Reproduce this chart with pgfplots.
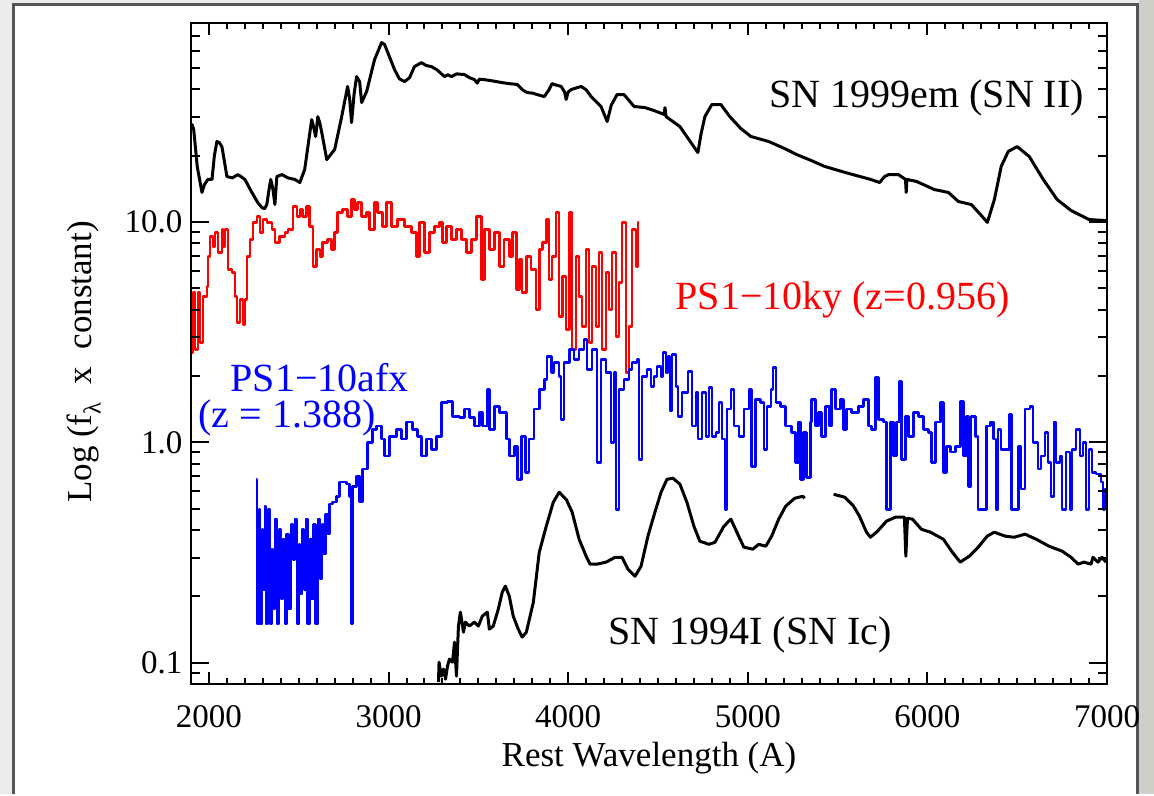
\documentclass[border=0pt]{standalone}
\usepackage{pgfplots}
\pgfplotsset{compat=1.18}
\usepackage{fontspec}
\setmainfont{Liberation Serif}
\definecolor{bgout}{HTML}{EBEBEB}
\definecolor{bgright}{HTML}{CFCFC8}
\definecolor{framec}{HTML}{555555}

\pgfplotstableread{
x y
1900 1.430
1906 1.442
1915 1.420
1935 1.250
1961 1.134
1975 1.170
1994 1.193
2017 1.193
2030 1.300
2044 1.365
2058 1.360
2072 1.342
2085 1.280
2100 1.206
2130 1.200
2161 1.215
2180 1.205
2200 1.193
2239 1.134
2270 1.090
2294 1.066
2310 1.060
2322 1.079
2335 1.150
2344 1.193
2356 1.150
2367 1.079
2378 1.206
2406 1.215
2440 1.200
2478 1.193
2506 1.179
2533 1.238
2572 1.465
2583 1.430
2594 1.388
2606 1.478
2617 1.450
2628 1.406
2656 1.283
2700 1.329
2739 1.478
2772 1.615
2783 1.560
2794 1.451
2808 1.580
2822 1.660
2839 1.637
2850 1.542
2878 1.592
2922 1.737
2961 1.814
2978 1.805
3033 1.692
3060 1.650
3089 1.637
3117 1.655
3144 1.705
3183 1.723
3210 1.710
3239 1.705
3270 1.690
3311 1.660
3330 1.668
3350 1.660
3380 1.672
3422 1.669
3450 1.655
3478 1.646
3494 1.630
3505 1.648
3533 1.646
3580 1.640
3628 1.633
3670 1.628
3717 1.624
3745 1.600
3772 1.587
3800 1.585
3828 1.578
3867 1.569
3894 1.601
3910 1.628
3922 1.624
3961 1.615
3980 1.590
3989 1.556
4000 1.590
4017 1.601
4072 1.615
4100 1.600
4128 1.569
4183 1.524
4217 1.456
4240 1.530
4272 1.578
4311 1.578
4367 1.524
4428 1.519
4480 1.505
4534 1.488
4539 1.519
4545 1.478
4622 1.433
4672 1.374
4722 1.315
4740 1.400
4761 1.478
4800 1.533
4850 1.533
4900 1.478
4960 1.425
5017 1.388
5117 1.365
5200 1.335
5272 1.306
5350 1.280
5428 1.252
5545 1.224
5684 1.193
5734 1.179
5760 1.205
5784 1.215
5839 1.215
5878 1.193
5882 1.134
5886 1.193
5939 1.184
6039 1.147
6117 1.134
6172 1.093
6245 1.079
6295 1.034
6334 0.998
6373 1.102
6411 1.252
6450 1.320
6500 1.342
6567 1.297
6645 1.193
6722 1.102
6800 1.052
6900 1.011
6978 1.007
7000 1.005
}\snIIem

\pgfplotstableread{
x y
1900 0.408
1911 0.680
1922 0.422
1939 0.680
1950 0.454
1967 0.662
1989 0.707
1994 0.844
2006 0.934
2022 0.889
2033 0.952
2050 0.862
2072 0.966
2078 0.889
2089 0.966
2106 0.785
2128 0.771
2144 0.662
2156 0.544
2172 0.649
2189 0.535
2200 0.649
2211 0.844
2228 0.921
2244 0.998
2267 1.025
2283 0.952
2300 1.011
2322 0.998
2350 0.966
2367 0.907
2394 0.934
2422 0.952
2439 0.966
2467 1.070
2489 1.025
2506 1.057
2522 1.025
2544 1.070
2561 0.980
2578 0.798
2600 0.875
2617 0.844
2633 0.907
2661 0.921
2683 0.875
2700 0.952
2717 1.043
2744 1.057
2772 1.025
2794 1.102
2811 1.057
2828 1.088
2850 1.025
2878 1.043
2894 0.966
2922 1.088
2939 1.043
2967 0.980
2989 1.088
3017 0.980
3050 1.011
3089 0.980
3128 0.952
3156 0.844
3172 0.998
3200 0.862
3228 0.952
3256 0.980
3283 0.998
3300 0.907
3322 0.980
3350 0.921
3378 0.966
3406 0.921
3433 0.862
3461 0.921
3489 1.025
3517 0.739
3533 0.966
3561 0.875
3589 0.952
3617 0.798
3644 0.921
3672 0.844
3689 0.952
3711 0.694
3728 0.830
3744 0.680
3767 0.844
3794 0.785
3822 0.603
3839 0.875
3856 0.907
3878 1.011
3894 0.739
3911 0.844
3933 1.043
3950 0.571
3967 0.753
3989 0.512
4006 1.043
4022 0.422
4044 0.844
4061 0.662
4078 0.526
4100 0.875
4117 0.454
4133 0.798
4156 0.526
4172 0.862
4189 0.422
4211 0.771
4228 0.603
4244 0.862
4267 0.481
4283 0.726
4300 0.998
4322 0.317
4339 0.526
4356 0.966
4378 0.798
4389 0.998
4395 0.998
}\kyred

\pgfplotstableread{
x y
2261 -0.168
2267 -0.825
2278 -0.304
2283 -0.825
2294 -0.395
2300 -0.667
2311 -0.290
2317 -0.825
2328 -0.304
2339 -0.825
2350 -0.485
2356 -0.757
2367 -0.349
2378 -0.825
2389 -0.395
2400 -0.712
2411 -0.440
2422 -0.825
2433 -0.417
2444 -0.757
2456 -0.372
2467 -0.531
2478 -0.349
2489 -0.825
2500 -0.463
2506 -0.689
2517 -0.395
2528 -0.667
2539 -0.349
2550 -0.825
2561 -0.440
2572 -0.712
2583 -0.372
2594 -0.825
2606 -0.349
2617 -0.621
2628 -0.372
2639 -0.508
2650 -0.327
2661 -0.417
2672 -0.281
2689 -0.272
2711 -0.245
2728 -0.181
2767 -0.190
2783 -0.245
2794 -0.825
2800 -0.200
2822 -0.154
2839 -0.272
2856 -0.122
2883 0.000
2911 0.059
2933 0.073
2961 0.014
2978 -0.063
3006 0.027
3044 0.059
3072 0.014
3100 0.091
3133 0.059
3161 0.027
3183 -0.063
3211 0.014
3239 -0.032
3267 0.027
3294 0.181
3328 0.186
3356 0.118
3394 0.113
3422 0.150
3450 0.113
3478 0.073
3506 0.136
3522 0.073
3550 0.240
3561 0.059
3589 0.163
3617 0.136
3656 0.014
3672 -0.063
3700 -0.018
3717 -0.168
3739 0.027
3761 -0.136
3783 0.014
3811 0.150
3839 0.240
3867 0.286
3883 0.390
3906 0.317
3922 0.363
3950 0.299
3961 0.104
3978 0.363
4006 0.422
4033 0.376
4061 0.422
4089 0.467
4106 0.331
4133 0.422
4161 -0.091
4183 0.376
4211 0.317
4239 0.000
4256 0.317
4267 -0.304
4283 0.240
4311 0.286
4339 0.331
4356 0.363
4383 0.376
4394 -0.077
4411 0.299
4439 0.331
4461 0.254
4478 0.299
4494 0.345
4517 0.299
4528 0.408
4544 0.317
4556 0.390
4567 0.141
4578 0.399
4600 0.254
4611 0.118
4633 0.227
4667 0.322
4689 0.073
4711 0.227
4722 0.014
4744 0.227
4767 0.027
4783 0.249
4800 0.027
4822 0.045
4839 0.181
4856 0.014
4872 -0.304
4883 0.150
4906 0.240
4922 0.073
4950 0.027
4978 0.150
5006 0.240
5022 -0.109
5044 0.195
5072 0.181
5089 -0.032
5106 0.163
5128 0.240
5139 0.340
5156 0.181
5183 0.163
5211 0.073
5244 0.045
5267 -0.091
5283 0.091
5294 -0.168
5311 0.045
5328 -0.159
5350 0.091
5356 0.195
5378 0.073
5394 0.136
5411 0.027
5433 0.163
5456 0.073
5467 0.240
5489 0.150
5517 0.195
5533 0.059
5550 0.150
5578 0.136
5617 0.163
5644 0.195
5672 0.073
5689 0.059
5711 0.295
5728 0.104
5756 0.091
5772 -0.304
5794 0.091
5811 -0.063
5828 0.091
5844 0.277
5856 -0.077
5878 0.118
5894 0.027
5922 0.136
5950 0.118
5978 0.059
6006 0.045
6022 -0.091
6044 0.091
6072 0.181
6089 -0.136
6106 -0.018
6128 -0.045
6156 -0.018
6183 0.186
6200 -0.063
6217 0.118
6228 -0.200
6244 0.118
6267 0.027
6283 -0.304
6322 -0.304
6328 0.073
6350 0.091
6367 0.014
6383 -0.304
6394 0.059
6411 -0.032
6433 -0.032
6456 0.127
6467 -0.304
6494 -0.304
6506 -0.018
6522 -0.213
6544 0.150
6572 0.163
6589 0.000
6617 -0.122
6633 -0.063
6656 0.045
6672 -0.091
6689 -0.245
6706 0.091
6717 -0.091
6739 -0.063
6750 -0.304
6772 -0.045
6794 -0.304
6806 -0.032
6828 0.059
6850 -0.063
6867 0.000
6883 -0.304
6900 -0.032
6917 -0.136
6939 -0.145
6967 -0.181
6978 -0.304
6989 -0.213
7000 -0.213
}\afxblue

\pgfplotstableread{
x y
3278 -1.088
3281 -0.998
3294 -1.061
3306 -1.029
3317 -1.075
3328 -1.016
3339 -0.984
3356 -0.998
3367 -0.907
3378 -1.061
3389 -0.834
3400 -0.771
3417 -0.862
3428 -0.816
3450 -0.834
3478 -0.816
3500 -0.834
3522 -0.789
3550 -0.771
3561 -0.848
3583 -0.834
3611 -0.757
3633 -0.680
3650 -0.653
3672 -0.698
3694 -0.789
3722 -0.848
3744 -0.884
3767 -0.862
3806 -0.726
3839 -0.499
3878 -0.381
3917 -0.272
3950 -0.227
3989 -0.259
4022 -0.317
4061 -0.440
4100 -0.517
4122 -0.553
4161 -0.553
4211 -0.544
4261 -0.522
4300 -0.522
4333 -0.576
4372 -0.608
4406 -0.562
4444 -0.426
4483 -0.317
4517 -0.227
4550 -0.168
4583 -0.163
4622 -0.190
4661 -0.272
4700 -0.381
4733 -0.449
4783 -0.463
4817 -0.454
4867 -0.381
4906 -0.349
4939 -0.408
4978 -0.476
5028 -0.485
5061 -0.463
5100 -0.472
5133 -0.426
5172 -0.349
5211 -0.290
5261 -0.254
5306 -0.245
5317 -0.254
}\Icone

\pgfplotstableread{
x y
5478 -0.236
5539 -0.249
5589 -0.290
5622 -0.336
5661 -0.408
5683 -0.431
5722 -0.404
5772 -0.358
5822 -0.340
5872 -0.340
5880 -0.517
5889 -0.345
5917 -0.349
5967 -0.395
6017 -0.408
6089 -0.440
6139 -0.499
6183 -0.544
6233 -0.517
6283 -0.476
6333 -0.426
6372 -0.408
6433 -0.426
6483 -0.431
6544 -0.417
6606 -0.440
6678 -0.472
6750 -0.494
6800 -0.522
6839 -0.553
6872 -0.544
6911 -0.553
6922 -0.522
6950 -0.544
6972 -0.522
6994 -0.544
}\Ictwo

\begin{document}
\begin{tikzpicture}[x=1pt,y=1pt]
\fill[bgout] (0,0) rectangle (1154,794);
\fill[bgright] (1139,0) rectangle (1154,794);
\fill[white] (13,0) rectangle (1137,789);
\draw[framec, line width=3pt] (13,0) -- (13,789) -- (1137,789) -- (1137,0);

\begin{axis}[at={(191pt,110pt)}, anchor=south west, scale only axis,
  width=916pt, height=661pt,
  xmin=1900, xmax=7000, ymin=-1.097, ymax=1.903,
  xtick={2000,3000,4000,5000,6000,7000},
  xticklabels={2000,3000,4000,5000,6000,7000},
  minor x tick num=9,
  ytick=\empty,
  major tick length=12pt, minor tick length=6pt,
  axis line style={line width=2.5pt},
  tick style={line width=2pt, black},
  ticklabel style={font=\fontsize{33}{33}\selectfont},
  xticklabel style={yshift=-18pt},
  line join=round]
\addplot[black, line width=3pt] table {\snIIem};
\addplot[red, line width=2.5pt, const plot] table {\kyred};
\addplot[blue, line width=2.5pt, const plot] table {\afxblue};
\addplot[black, line width=3pt] table {\Icone};
\addplot[black, line width=3pt] table {\Ictwo};
\end{axis}

\begin{axis}[at={(191pt,110pt)}, anchor=south west, scale only axis,
  width=916pt, height=661pt,
  xmin=1900, xmax=7000, ymin=-1.097, ymax=1.903,
  xtick=\empty,
  ytick={-1,0,1}, yticklabels={0.1,1.0,10.0},
  minor ytick={-1.046,-0.699,-0.523,-0.398,-0.301,-0.222,-0.155,-0.097,-0.046,
    0.301,0.477,0.602,0.699,0.778,0.845,0.903,0.954,
    1.301,1.477,1.602,1.699,1.778,1.845},
  major tick length=18pt, minor tick length=9pt,
  axis line style={line width=2.5pt},
  tick style={line width=2pt, black},
  ticklabel style={font=\fontsize{33}{33}\selectfont},
  yticklabel style={xshift=-5pt}]
\end{axis}

\node[anchor=base west, font=\fontsize{40}{40}\selectfont] at (766,686) {SN 1999em (SN II)};
\node[anchor=base west, font=\fontsize{40}{40}\selectfont, text=red] at (672,484) {PS1−10ky (z=0.956)};
\node[anchor=base west, font=\fontsize{40}{40}\selectfont, text=blue] at (227,402) {PS1−10afx};
\node[anchor=base west, font=\fontsize{40}{40}\selectfont, text=blue] at (195,366) {(z = 1.388)};
\node[anchor=base west, font=\fontsize{40}{40}\selectfont] at (605,149) {SN 1994I (SN Ic)};
\node[anchor=base, font=\fontsize{35}{35}\selectfont] at (649,28) {Rest Wavelength (A)};
\node[anchor=center, rotate=90, font=\fontsize{35}{35}\selectfont] at (84,432) {Log (f\textsubscript{λ}\ \ x\ \ constant)};
\end{tikzpicture}
\end{document}
